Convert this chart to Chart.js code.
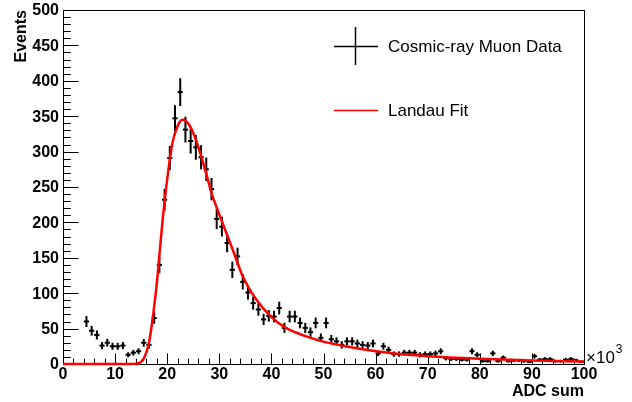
<!DOCTYPE html>
<html><head><meta charset="utf-8">
<script src="https://cdn.jsdelivr.net/npm/chart.js@4/dist/chart.umd.min.js"></script>
<style>html,body{margin:0;padding:0;background:#fff;overflow:hidden}canvas{display:block}</style>
</head><body>
<canvas id="c" width="632" height="402"></canvas>
<script>
// Bin centres (ADC sum, x10^3)
const binCenters = [4.5,5.5,6.5,7.5,8.5,9.5,10.5,11.5,12.5,13.5,14.5,15.5,16.5,17.5,18.5,19.5,
  20.5,21.5,22.5,23.5,24.5,25.5,26.5,27.5,28.5,29.5,30.5,31.5,32.5,33.5,34.5,35.5,36.5,37.5,38.5,39.5,
  40.5,41.5,42.5,43.5,44.5,45.5,46.5,47.5,48.5,49.5,50.5,51.5,52.5,53.5,54.5,55.5,56.5,57.5,58.5,59.5,
  60.5,61.5,62.5,63.5,64.5,65.5,66.5,67.5,68.5,69.5,70.5,71.5,72.5,73.5,74.5,75.5,76.5,77.5,78.5,79.5,
  80.5,81.5,82.5,83.5,84.5,85.5,86.5,87.5,88.5,89.5,90.5,91.5,92.5,93.5,94.5,95.5,96.5,97.5,98.5,99.5];
// Events per bin
const counts = [60,47,41,26,30,25,25,26,13,16,18,30,27,65,140,232,
  291,347,384,331,315,306,292,275,247,205,194,171,133,152,116,101,86,77,63,68,
  67,79,51,67,67,58,51,45,58,37,58,35,32,27,32,32,29,27,26,29,
  15,25,20,14,14,16,16,16,13,14,14,15,18,8,7,7,6,6,18,13,
  4,4,15,4,9,4,5,5,4,3,11,6,7,7,4,4,6,7,5,3];
// Landau fit curve
const fitX = [0,13,14,15,15.6,16.5,17.8,19.4,21,22,22.9,24.2,25.5,27.1,28.7,29.4,32.6,34.5,37.1,39.9,42.8,46.7,50.5,55,60.1,64.6,70,80,90,100];
const fitY = [0,0,0.5,3,9,30,100,223,312,336,345,338,317,279,237,223,161,124,91,67,51,39,30.5,24,18,14,11,7.5,5,3.5];
// Tick labels
const xTickValues = [0,10,20,30,40,50,60,70,80,90,100];
const xTickLabels = ['0','10','20','30','40','50','60','70','80','90','100'];
const yTickValues = [0,50,100,150,200,250,300,350,400,450,500];
const yTickLabels = ['0','50','100','150','200','250','300','350','400','450','500'];
const legendLabels = ['Cosmic-ray Muon Data','Landau Fit'];
const xTitle = 'ADC sum';
const yTitle = 'Events';

const FONT = '"Liberation Sans", Arial, Helvetica, sans-serif';

const framePlugin = {
  id: 'rootFrame',
  beforeDatasetsDraw(chart) {
    const ctx = chart.ctx, a = chart.chartArea, xs = chart.scales.x, ys = chart.scales.y;
    ctx.save();
    ctx.strokeStyle = '#000'; ctx.lineWidth = 1;
    ctx.strokeRect(Math.round(a.left)+0.5, Math.round(a.top)+0.5, Math.round(a.right-a.left), Math.round(a.bottom-a.top));
    // x ticks (inside, pointing up)
    const xl = 0.03*(a.bottom-a.top);
    for (let v = 0; v <= 100; v += 2) {
      const px = Math.round(xs.getPixelForValue(v))+0.5;
      const len = (v % 10 === 0) ? xl : xl/2;
      ctx.beginPath(); ctx.moveTo(px, a.bottom); ctx.lineTo(px, a.bottom-len); ctx.stroke();
    }
    const yl = 0.03*(a.right-a.left);
    for (let v = 0; v <= 500; v += 10) {
      const py = Math.round(ys.getPixelForValue(v))+0.5;
      const len = (v % 50 === 0) ? yl : yl/2;
      ctx.beginPath(); ctx.moveTo(a.left, py); ctx.lineTo(a.left+len, py); ctx.stroke();
    }
    // tick labels
    ctx.fillStyle = '#000';
    ctx.font = 'bold 16px ' + FONT;
    ctx.textAlign = 'right'; ctx.textBaseline = 'middle';
    yTickValues.forEach((v,i) => ctx.fillText(yTickLabels[i], a.left-4, ys.getPixelForValue(v)+1));
    ctx.textAlign = 'center';
    xTickValues.forEach((v,i) => ctx.fillText(xTickLabels[i], xs.getPixelForValue(v), a.bottom+11));
    // axis titles
    ctx.textAlign = 'right';
    ctx.fillText(xTitle, a.right, a.bottom+28);
    ctx.save();
    ctx.translate(22, a.top);
    ctx.rotate(-Math.PI/2);
    ctx.textAlign = 'right'; ctx.textBaseline = 'middle';
    ctx.fillText(yTitle, 0, 0);
    ctx.restore();
    // x10^3
    ctx.font = '17px ' + FONT;
    ctx.textAlign = 'left'; ctx.textBaseline = 'middle';
    ctx.fillText('\u00d710', a.right+2, a.bottom-6);
    const w = ctx.measureText('\u00d710').width;
    ctx.font = '12px ' + FONT;
    ctx.fillText('3', a.right+2+w+1, a.bottom-14);
    // error bars
    ctx.lineWidth = 2;
    binCenters.forEach((x,i) => {
      const n = counts[i], e = Math.sqrt(n);
      const px = xs.getPixelForValue(x);
      ctx.beginPath();
      ctx.moveTo(px, ys.getPixelForValue(n+e));
      ctx.lineTo(px, ys.getPixelForValue(Math.max(0,n-e)));
      ctx.stroke();
    });
    ctx.restore();
  },
  afterDatasetsDraw(chart) {
    const ctx = chart.ctx;
    ctx.save();
    // legend
    ctx.strokeStyle = '#000'; ctx.lineWidth = 1.5;
    ctx.beginPath(); ctx.moveTo(334, 46.5); ctx.lineTo(378, 46.5); ctx.stroke();
    ctx.beginPath(); ctx.moveTo(355.5, 27); ctx.lineTo(355.5, 65); ctx.stroke();
    ctx.strokeStyle = '#ff0000'; ctx.lineWidth = 1.5;
    ctx.beginPath(); ctx.moveTo(334, 110.5); ctx.lineTo(378, 110.5); ctx.stroke();
    ctx.fillStyle = '#000';
    ctx.font = '17px ' + FONT;
    ctx.textAlign = 'left'; ctx.textBaseline = 'middle';
    ctx.fillText(legendLabels[0], 388, 47);
    ctx.fillText(legendLabels[1], 388, 111);
    ctx.restore();
  }
};

new Chart(document.getElementById('c'), {
  type: 'scatter',
  data: {
    datasets: [
      {
        label: legendLabels[1],
        type: 'line',
        data: fitX.map((x,i) => ({x, y: fitY[i]})),
        borderColor: '#ff0000',
        borderWidth: 2.5,
        pointRadius: 0,
        cubicInterpolationMode: 'monotone',
        fill: false,
        clip: false,
        order: 0
      },
      {
        label: legendLabels[0],
        data: binCenters.map((x,i) => ({x, y: counts[i]})),
        pointStyle: 'line',
        pointRadius: 2.6,
        borderColor: '#000',
        backgroundColor: '#000',
        borderWidth: 2,
        order: 1
      }
    ]
  },
  options: {
    responsive: false,
    animation: false,
    devicePixelRatio: 1,
    layout: { padding: { left: 63, right: 48, top: 10, bottom: 38 } },
    plugins: { legend: { display: false }, tooltip: { enabled: false } },
    scales: {
      x: { type: 'linear', min: 0, max: 100, display: false },
      y: { type: 'linear', min: 0, max: 500, display: false }
    }
  },
  plugins: [framePlugin]
});
</script>
</body></html>
